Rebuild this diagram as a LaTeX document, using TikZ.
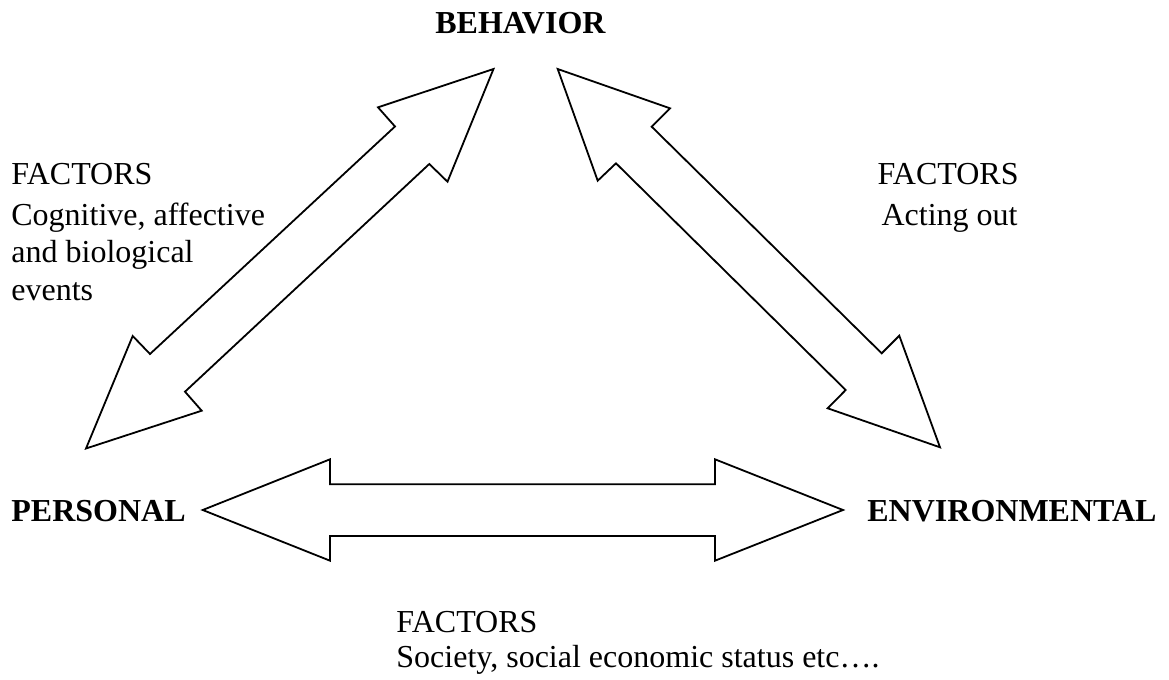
\documentclass[tikz,border=0pt]{standalone}
\usepackage{fontspec}
\setmainfont{Liberation Serif}
\begin{document}
\begin{tikzpicture}[x=0.5pt,y=-0.5pt,
  lbl/.style={inner sep=0pt,anchor=base west,font=\fontsize{16}{18.5}\selectfont},
  lblr/.style={lbl,anchor=base east},
  corner/.style={lbl,font=\fontsize{16}{18.5}\selectfont\bfseries},
  blockarrow/.style={draw=black,fill=white,line width=0.9pt,line join=miter}]
\useasboundingbox (0,0) rectangle (1169,680);

% corner labels
\node[corner] (behavior) at (435,33.5) {BEHAVIOR};
\node[corner] (personal) at (11,521) {PERSONAL};
\node[corner] (environmental) at (867,521) {ENVIRONMENTAL};

% personal <-> behavior
\coordinate (pbA) at (493.5,69);
\coordinate (pbB) at (378,107.3);
\coordinate (pbC) at (395,126.5);
\coordinate (pbD) at (150,354);
\coordinate (pbE) at (132.7,336);
\coordinate (pbF) at (86,448.5);
\coordinate (pbG) at (201.7,410.7);
\coordinate (pbH) at (185,391.7);
\coordinate (pbI) at (429.3,164);
\coordinate (pbJ) at (447.5,181.7);
\draw[blockarrow] (pbA) -- (pbB) -- (pbC) -- (pbD) -- (pbE) -- (pbF)
  -- (pbG) -- (pbH) -- (pbI) -- (pbJ) -- cycle;

% behavior <-> environmental
\coordinate (beA) at (557.7,69);
\coordinate (beB) at (670,108.3);
\coordinate (beC) at (651.7,126.7);
\coordinate (beD) at (881.7,353.3);
\coordinate (beE) at (899.3,335.7);
\coordinate (beF) at (940,447.3);
\coordinate (beG) at (827.7,408.3);
\coordinate (beH) at (845.7,390);
\coordinate (beI) at (616,163.3);
\coordinate (beJ) at (597.7,180.7);
\draw[blockarrow] (beA) -- (beB) -- (beC) -- (beD) -- (beE) -- (beF)
  -- (beG) -- (beH) -- (beI) -- (beJ) -- cycle;

% personal <-> environmental
\coordinate (peL) at (202.7,510);
\coordinate (peR) at (843,510);
\draw[blockarrow] (peL) -- (330,459.3) -- (330,484.3) -- (715,484.3) -- (715,459.3)
  -- (peR) -- (715,560.7) -- (715,536) -- (330,536) -- (330,560.7) -- cycle;

% factor texts
\node[lbl] (lf1) at (11,184) {FACTORS};
\node[lbl] (lf2) at (11,225.7) {Cognitive, affective};
\node[lbl] (lf3) at (11,262.3) {and biological};
\node[lbl] (lf4) at (11,300) {events};

\node[lblr] (rf1) at (1019,184) {FACTORS};
\node[lblr] (rf2) at (1018,225.7) {Acting out};

\node[lbl] (bf1) at (396,632.7) {FACTORS};
\node[lbl] (bf2) at (396,667.3) {Society, social economic status etc….};
\end{tikzpicture}
\end{document}
